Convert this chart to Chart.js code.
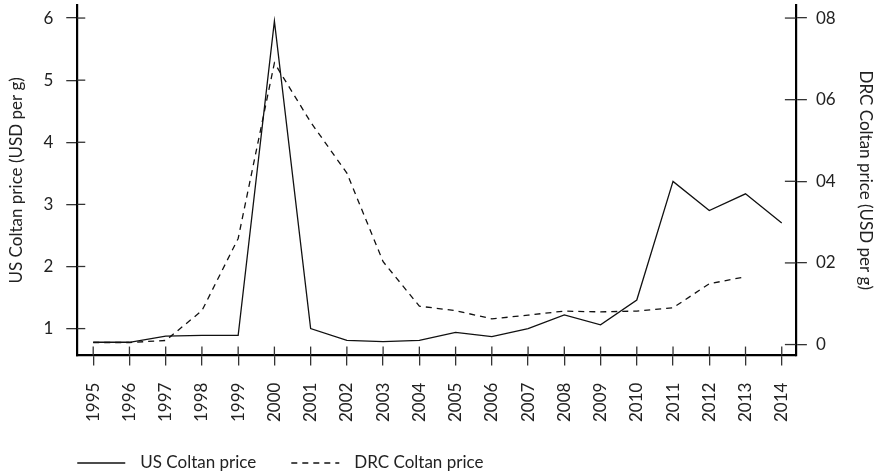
<!DOCTYPE html>
<html>
<head>
<meta charset="utf-8">
<script src="https://cdn.jsdelivr.net/npm/chart.js@4/dist/chart.umd.min.js"></script>
<style>
  html, body { margin: 0; padding: 0; background: #fff; }
  #wrap { width: 877px; height: 474px; position: relative; }
</style>
</head>
<body>
<div id="wrap"><canvas id="coltanChart" width="877" height="474"></canvas></div>
<script>
// data
const years = [1995, 1996, 1997, 1998, 1999, 2000, 2001, 2002, 2003, 2004,
  2005, 2006, 2007, 2008, 2009, 2010, 2011, 2012, 2013, 2014];
const usPrice = [0.78, 0.78, 0.88, 0.89, 0.89, 5.95, 1.0, 0.81, 0.79, 0.81,
  0.94, 0.87, 1.0, 1.22, 1.06, 1.46, 3.37, 2.9, 3.17, 2.7];
const drcPrice = [0.0005, 0.0005, 0.001, 0.0083, 0.026, 0.069, 0.0545, 0.042, 0.0203, 0.0094,
  0.0083, 0.0063, 0.0072, 0.0082, 0.008, 0.0082, 0.009, 0.0149, 0.0166, null];
const leftTicks = [1, 2, 3, 4, 5, 6];
const rightTicks = [0, 0.02, 0.04, 0.06, 0.08];
const rightTickLabels = ["0", "02", "04", "06", "08"];
const seriesNames = ["US Coltan price", "DRC Coltan price"];

Chart.defaults.font.family = "Lato, 'Open Sans', sans-serif";
Chart.defaults.font.size = 17;
Chart.defaults.color = "#222";

// ticks in the picture cross the axis line, so draw the inner half too
const crossTicks = {
  id: "crossTicks",
  afterDraw(chart) {
    const ctx = chart.ctx;
    const area = chart.chartArea;
    ctx.save();
    ctx.strokeStyle = "#333";
    ctx.lineWidth = 1.3;
    ["x", "y", "y2"].forEach((id) => {
      const sc = chart.scales[id];
      sc.ticks.forEach((t, i) => {
        const p = sc.getPixelForTick(i);
        ctx.beginPath();
        if (id === "x") {
          ctx.moveTo(p, area.bottom);
          ctx.lineTo(p, area.bottom - 9);
        } else if (id === "y") {
          ctx.moveTo(area.left, p);
          ctx.lineTo(area.left + 8, p);
        } else {
          ctx.moveTo(area.right, p);
          ctx.lineTo(area.right - 11, p);
        }
        ctx.stroke();
      });
    });
    ctx.restore();
  },
};

// simple legend under the chart, solid and dashed strokes
const bottomLegend = {
  id: "bottomLegend",
  afterDraw(chart) {
    const ctx = chart.ctx;
    const y = chart.height - 11;
    let x = chart.chartArea.left;
    ctx.save();
    ctx.font = "17px Lato, 'Open Sans', sans-serif";
    ctx.textBaseline = "middle";
    chart.data.datasets.forEach((ds) => {
      ctx.strokeStyle = ds.borderColor;
      ctx.lineWidth = ds.borderWidth;
      ctx.setLineDash(ds.borderDash || []);
      ctx.beginPath();
      ctx.moveTo(x, y);
      ctx.lineTo(x + 48, y);
      ctx.stroke();
      ctx.setLineDash([]);
      ctx.fillStyle = "#222";
      ctx.fillText(ds.label, x + 63, y);
      x += 63 + ctx.measureText(ds.label).width + 35;
    });
    ctx.restore();
  },
};

// drop the label overhang that chart.js reserves at the axis ends
const noOverhang = (sc) => {
  sc.paddingTop = 0;
  sc.paddingBottom = 0;
  sc.paddingLeft = 0;
  sc.paddingRight = 0;
};

const ctx = document.getElementById("coltanChart").getContext("2d");
const coltanChart = new Chart(ctx, {
  type: "line",
  data: {
    datasets: [
      {
        label: seriesNames[0],
        data: years.map((y, i) => ({ x: y, y: usPrice[i] })),
        borderColor: "#111",
        borderWidth: 1.3,
        pointRadius: 0,
        tension: 0,
        yAxisID: "y",
      },
      {
        label: seriesNames[1],
        data: years.map((y, i) => ({ x: y, y: drcPrice[i] })),
        borderColor: "#111",
        borderWidth: 1.3,
        borderDash: [6, 5],
        pointRadius: 0,
        tension: 0,
        spanGaps: false,
        yAxisID: "y2",
      },
    ],
  },
  options: {
    responsive: false,
    animation: false,
    devicePixelRatio: 1,
    layout: { padding: { top: 5, right: 1, bottom: 35, left: 6 } },
    plugins: { legend: { display: false }, tooltip: { enabled: false } },
    scales: {
      x: {
        type: "linear",
        min: 1994.56,
        max: 2014.39,
        afterBuildTicks: (sc) => { sc.ticks = years.map((v) => ({ value: v })); },
        afterFit: noOverhang,
        ticks: {
          autoSkip: false,
          minRotation: 90,
          maxRotation: 90,
          padding: 17,
          callback: (v) => String(v),
        },
        grid: { drawOnChartArea: false, tickLength: 10, color: "#333", lineWidth: 1.3 },
        border: { display: true, color: "#000", width: 2.2 },
      },
      y: {
        position: "left",
        min: 0.566,
        max: 6.21,
        afterBuildTicks: (sc) => { sc.ticks = leftTicks.map((v) => ({ value: v })); },
        afterFit: noOverhang,
        ticks: { padding: 13, callback: (v) => String(v) },
        grid: { drawOnChartArea: false, tickLength: 11, color: "#333", lineWidth: 1.3 },
        border: { display: true, color: "#000", width: 2.2 },
        title: { display: true, text: "US Coltan price (USD per g)", padding: { top: 0, bottom: 4 } },
      },
      y2: {
        position: "right",
        min: -0.0027,
        max: 0.0832,
        afterBuildTicks: (sc) => { sc.ticks = rightTicks.map((v) => ({ value: v })); },
        afterFit: noOverhang,
        ticks: {
          padding: 9,
          callback: (v) => {
            const i = rightTicks.findIndex((r) => Math.abs(r - v) < 1e-9);
            return i >= 0 ? rightTickLabels[i] : "";
          },
        },
        grid: { drawOnChartArea: false, tickLength: 11, color: "#333", lineWidth: 1.3 },
        border: { display: true, color: "#000", width: 2.2 },
        title: { display: true, text: "DRC Coltan price (USD per g)", padding: { top: 0, bottom: 11 } },
      },
    },
  },
  plugins: [crossTicks, bottomLegend],
});
</script>
</body>
</html>
